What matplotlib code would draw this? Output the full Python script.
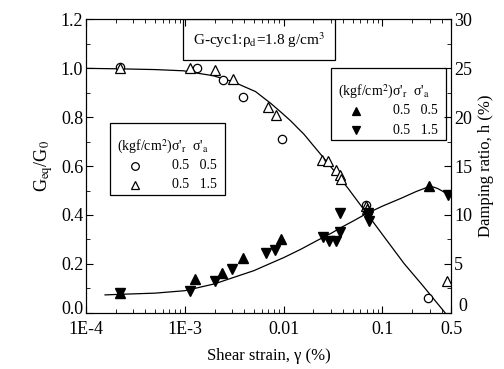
import matplotlib
matplotlib.use("Agg")
import matplotlib.pyplot as plt
import matplotlib.transforms as mtransforms
from matplotlib.patches import Rectangle
from matplotlib.ticker import FixedLocator, LogLocator, MultipleLocator, NullFormatter

# shear strain (%) and G_eq/G_0, open symbols
gamma_circ = [2.2e-4, 1.33e-3, 2.44e-3, 3.87e-3, 9.7e-3, 0.068, 0.29]
G_circ = [1.005, 1.0, 0.952, 0.881, 0.711, 0.44, 0.061]

gamma_tri = [2.2e-4, 1.12e-3, 2.04e-3, 3.08e-3, 6.93e-3, 8.3e-3, 0.0247, 0.0282,
             0.0343, 0.0372, 0.0385, 0.068, 0.070, 0.449]
G_tri = [1.0, 1.0, 0.993, 0.956, 0.843, 0.809, 0.625, 0.621,
         0.584, 0.563, 0.547, 0.437, 0.425, 0.131]

# damping ratio h (%), filled symbols
gamma_up = [2.2e-4, 1.28e-3, 2.39e-3, 3.87e-3, 9.5e-3, 0.299]
h_up = [2.0, 3.42, 4.09, 5.56, 7.54, 12.96]

gamma_dn = [2.2e-4, 1.12e-3, 2.0e-3, 3.01e-3, 6.67e-3, 8.1e-3, 0.0253, 0.029,
            0.0343, 0.037, 0.0375, 0.0715, 0.072, 0.074, 0.459]
h_dn = [2.0, 2.22, 3.27, 4.47, 6.07, 6.41, 7.71, 7.37,
        7.37, 8.22, 10.25, 10.2, 9.9, 9.4, 12.0]

# fitted curves
gc_x = [1e-4, 2.2e-4, 5e-4, 9.7e-4, 1.4e-3, 1.94e-3, 2.5e-3, 3.1e-3, 4e-3, 5.2e-3,
        6.2e-3, 7.4e-3, 9.5e-3, 0.0118, 0.0135, 0.0161, 0.02, 0.0255, 0.034,
        0.0447, 0.055, 0.0713, 0.1, 0.1665, 0.25, 0.43]
gc_y = [1.0, 0.998, 0.995, 0.99, 0.979, 0.97, 0.956, 0.945, 0.925, 0.905,
        0.881, 0.857, 0.819, 0.785, 0.761, 0.73, 0.684, 0.633, 0.57,
        0.51, 0.461, 0.40, 0.32, 0.20, 0.116, 0.0]

dc_x = [1.56e-4, 2.2e-4, 5e-4, 1e-3, 2e-3, 3e-3, 5e-3, 7e-3, 0.0101, 0.015, 0.022,
        0.03, 0.0379, 0.05, 0.068, 0.1, 0.154, 0.22, 0.288, 0.33, 0.363, 0.42, 0.5]
dc_y = [1.82, 1.88, 2.0, 2.25, 2.95, 3.55, 4.3, 4.95, 5.65, 6.5, 7.4,
        8.1, 8.7, 9.35, 10.1, 10.9, 11.7, 12.4, 12.85, 12.85, 12.7, 12.35, 12.1]

x_ticks = [1e-4, 1e-3, 1e-2, 1e-1, 0.5]
x_labels = ["1E-4", "1E-3", "0.01", "0.1", "0.5"]
g_ticks = [0.0, 0.2, 0.4, 0.6, 0.8, 1.0, 1.2]
h_ticks = [0, 5, 10, 15, 20, 25, 30]

plt.rcParams["font.family"] = "Liberation Serif"
plt.rcParams["mathtext.fontset"] = "stix"

fig = plt.figure(figsize=(5.04, 3.69), dpi=100)
ax = fig.add_axes([0.1706, 0.1526, 0.7252, 0.7946])
ax2 = ax.twinx()

ax.set_xscale("log")
ax.set_xlim(1e-4, 0.5)
ax.set_ylim(0, 1.2)
ax2.set_ylim(0, 30)

ax.plot(gc_x, gc_y, color="black", lw=0.9)
ax.plot(gamma_circ, G_circ, ls="none", marker="o", ms=6, mfc="white", mec="black", mew=0.9)
ax.plot(gamma_tri, G_tri, ls="none", marker="^", ms=6.5, mfc="white", mec="black", mew=0.9)

ax2.plot(dc_x, dc_y, color="black", lw=0.9)
ax2.plot(gamma_up, h_up, ls="none", marker="^", ms=6.5, color="black")
ax2.plot(gamma_dn, h_dn, ls="none", marker="v", ms=6.5, color="black")

ax.xaxis.set_major_locator(FixedLocator(x_ticks))
ax.set_xticklabels(x_labels)
ax.xaxis.set_minor_locator(LogLocator(base=10, subs=range(2, 10), numticks=20))
ax.xaxis.set_minor_formatter(NullFormatter())
ax.set_yticks(g_ticks)
ax.set_yticklabels([f"{v:.1f}" for v in g_ticks])
ax.yaxis.set_minor_locator(MultipleLocator(0.1))
ax2.set_yticks(h_ticks)
ax2.set_yticklabels([str(v) for v in h_ticks])
ax2.yaxis.set_minor_locator(MultipleLocator(2.5))

ax.tick_params(which="both", direction="in", top=True, labelsize=13, pad=2)
ax.tick_params(axis="x", which="major", pad=6)
ax.tick_params(which="major", length=5)
ax.tick_params(which="minor", length=3)
ax2.tick_params(which="both", direction="in", labelsize=13, pad=2)
ax2.tick_params(which="major", length=5)
ax2.tick_params(which="minor", length=3)

# lift the two corner "0" labels a little so they clear the x labels
lift_l = mtransforms.ScaledTranslation(0, 4 / 72, fig.dpi_scale_trans)
lift_r = mtransforms.ScaledTranslation(3 / 72, 6 / 72, fig.dpi_scale_trans)
lab = ax.get_yticklabels()[0]
lab.set_transform(lab.get_transform() + lift_l)
lab = ax2.get_yticklabels()[0]
lab.set_transform(lab.get_transform() + lift_r)

ax.set_xlabel("Shear strain, γ (%)", fontsize=12, labelpad=7)
ax.set_ylabel(r"G$_{\rm eq}$/G$_0$", fontsize=13, labelpad=4)
ax2.set_ylabel("Damping ratio, h (%)", fontsize=12, labelpad=4)

# sample box
ax.add_patch(Rectangle((0.2654, 0.862), 0.4159, 0.138, transform=ax.transAxes,
                       fill=False, lw=0.9, ec="black"))
ax.text(0.4733, 0.928, r"G-cyc1:ρ$_{\rm d}$=1.8 g/cm$^3$", transform=ax.transAxes,
        ha="center", va="center", fontsize=11)

# legends
hdr = r"(kgf/cm$^2$)σ'$_{\rm r}$  σ'$_{\rm a}$"
for (x0, y0, mk, fill) in [(0.0657, 0.647, ("o", "^"), False), (0.6695, 0.834, ("^", "v"), True)]:
    ax.add_patch(Rectangle((x0, y0 - 0.245), 0.315, 0.245, transform=ax.transAxes,
                           fill=True, fc="white", lw=0.9, ec="black", zorder=5))
    ax.text(x0 + 0.02, y0 - 0.08, hdr, transform=ax.transAxes, fontsize=10,
            va="center", ha="left", zorder=6)
    rows = ["0.5   0.5", "0.5   1.5"]
    for i, m in enumerate(mk):
        yy = y0 - 0.145 - i * 0.066
        ax.plot([x0 + 0.068], [yy], transform=ax.transAxes, marker=m, ms=5.5,
                mfc="black" if fill else "white", mec="black", mew=0.9,
                clip_on=False, zorder=6)
        ax.text(x0 + 0.17, yy, rows[i], transform=ax.transAxes, fontsize=10,
                va="center", ha="left", zorder=6)

fig.savefig("out.png", dpi=100)
